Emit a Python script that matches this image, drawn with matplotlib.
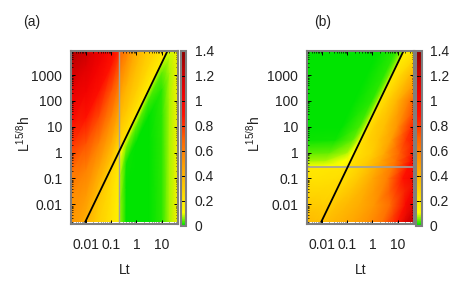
import numpy as np
import matplotlib
matplotlib.use('Agg')
import matplotlib.pyplot as plt
from matplotlib.colors import LinearSegmentedColormap
from matplotlib.patches import Rectangle
from matplotlib.ticker import FixedLocator, FixedFormatter, LogLocator, NullFormatter

plt.rcParams['font.family'] = ['Liberation Sans', 'DejaVu Sans']
plt.rcParams['mathtext.fontset'] = 'custom'
plt.rcParams['mathtext.rm'] = 'Liberation Sans'
plt.rcParams['mathtext.it'] = 'Liberation Sans'

# ---------------- data ----------------
x_ticks = [0.01, 0.1, 1, 10]
x_ticklabels = ['0.01', '0.1', '1', '10']
y_ticks = [0.01, 0.1, 1, 10, 100, 1000]
y_ticklabels = ['0.01', '0.1', '1', '10', '100', '1000']
cb_ticks = [0, 0.2, 0.4, 0.6, 0.8, 1.0, 1.2, 1.4]
cb_ticklabels = ['0', '0.2', '0.4', '0.6', '0.8', '1', '1.2', '1.4']
x_range = [10 ** -2.59, 10 ** 1.64]
y_range = [10 ** -2.76, 10 ** 3.93]
img_bottom_h = 10 ** -2.69

# crossover line (same in both panels)
line_lt = [0.0093, 16.8]
line_h = [0.00195, 8500.0]

gray_lt_a = 0.21   # vertical grey line, panel (a)
gray_h_b = 0.29    # horizontal grey line, panel (b)

# panel (a): columns = log10(Lt), rows = decades of L^{15/8}h above the line
A_u = [-2.6, -2.0, -1.5, -1.0, -0.67, -0.67, -0.4, 0.0, 0.5, 1.0, 1.3, 1.65]
A_s = [-8, -2, -1, -0.35, 0, 0, 0.5, 1, 2, 3, 4, 5, 6, 7, 8]
A_vals = [
    [0.45, 0.35, 0.28, 0.20, 0.15, 0.06, 0.00, 0.00, 0.00, 0.02, 0.07, 0.18],
    [0.45, 0.36, 0.29, 0.22, 0.16, 0.07, 0.00, 0.00, 0.00, 0.02, 0.07, 0.18],
    [0.46, 0.38, 0.30, 0.24, 0.18, 0.08, 0.01, 0.00, 0.00, 0.02, 0.07, 0.18],
    [0.47, 0.40, 0.32, 0.26, 0.20, 0.10, 0.05, 0.04, 0.03, 0.04, 0.08, 0.18],
    [0.48, 0.42, 0.34, 0.28, 0.22, 0.14, 0.12, 0.10, 0.08, 0.08, 0.10, 0.18],
    [0.48, 0.42, 0.34, 0.28, 0.22, 0.24, 0.22, 0.20, 0.18, 0.18, 0.18, 0.18],
    [0.49, 0.46, 0.40, 0.36, 0.30, 0.28, 0.27, 0.25, 0.22, 0.22, 0.20, 0.20],
    [0.50, 0.50, 0.46, 0.43, 0.38, 0.33, 0.32, 0.30, 0.27, 0.25, 0.22, 0.20],
    [0.53, 0.59, 0.60, 0.58, 0.53, 0.45, 0.42, 0.38, 0.32, 0.30, 0.25, 0.22],
    [0.61, 0.73, 0.76, 0.73, 0.69, 0.57, 0.55, 0.45, 0.40, 0.35, 0.30, 0.25],
    [0.77, 0.88, 0.90, 0.88, 0.84, 0.70, 0.66, 0.55, 0.45, 0.40, 0.35, 0.30],
    [0.92, 1.02, 1.02, 1.00, 0.98, 0.80, 0.75, 0.60, 0.50, 0.45, 0.40, 0.35],
    [1.06, 1.12, 1.12, 1.10, 1.10, 0.88, 0.80, 0.65, 0.55, 0.50, 0.45, 0.40],
    [1.18, 1.25, 1.20, 1.20, 1.20, 0.95, 0.85, 0.70, 0.60, 0.55, 0.50, 0.45],
    [1.32, 1.30, 1.25, 1.25, 1.25, 1.00, 0.90, 0.75, 0.65, 0.60, 0.55, 0.50],
]

# panel (b): rows = log10(L^{15/8}h), columns = decades of Lt right of the line
B_w = [-2.8, -2.0, -1.0, -0.53, -0.53, -0.3, 0.0, 0.5, 1.0, 2.0, 3.0, 4.0]
B_d = [-4, -1, -0.3, -0.1, 0, 0, 0.3, 0.7, 1.2, 1.8, 2.4, 3.0, 3.4, 3.8]
B_vals = [
    [0.42, 0.41, 0.38, 0.37, 0.36, 0.36, 0.38, 0.41, 0.45, 0.52, 0.62, 0.85, 1.15, 1.28],
    [0.32, 0.31, 0.30, 0.30, 0.30, 0.30, 0.34, 0.38, 0.43, 0.52, 0.66, 0.95, 1.15, 1.25],
    [0.22, 0.22, 0.23, 0.24, 0.24, 0.24, 0.27, 0.33, 0.45, 0.60, 0.88, 1.05, 1.10, 1.15],
    [0.20, 0.20, 0.21, 0.22, 0.22, 0.22, 0.26, 0.32, 0.45, 0.62, 0.90, 1.00, 1.05, 1.10],
    [0.09, 0.10, 0.12, 0.15, 0.18, 0.22, 0.26, 0.32, 0.45, 0.62, 0.90, 1.00, 1.05, 1.10],
    [0.06, 0.07, 0.10, 0.13, 0.17, 0.22, 0.26, 0.31, 0.45, 0.65, 0.92, 1.00, 1.00, 1.00],
    [0.03, 0.04, 0.07, 0.10, 0.14, 0.22, 0.25, 0.30, 0.45, 0.70, 0.95, 1.00, 1.00, 1.00],
    [0.00, 0.01, 0.04, 0.08, 0.12, 0.22, 0.28, 0.34, 0.48, 0.80, 0.95, 1.00, 1.00, 1.00],
    [0.00, 0.00, 0.03, 0.07, 0.12, 0.22, 0.30, 0.36, 0.52, 0.84, 0.95, 1.00, 1.00, 1.00],
    [0.00, 0.00, 0.02, 0.06, 0.10, 0.22, 0.28, 0.40, 0.62, 0.80, 0.90, 0.90, 0.90, 0.90],
    [0.00, 0.00, 0.02, 0.05, 0.09, 0.20, 0.26, 0.37, 0.50, 0.60, 0.70, 0.70, 0.70, 0.70],
    [0.00, 0.00, 0.02, 0.05, 0.08, 0.18, 0.20, 0.25, 0.35, 0.45, 0.50, 0.50, 0.50, 0.50],
]

# ---------------- colours ----------------
cmap = LinearSegmentedColormap.from_list('gyr', [
    (0.0 / 1.4, '#00e400'),
    (0.10 / 1.4, '#ffff00'),
    (0.20 / 1.4, '#ffe800'),
    (0.35 / 1.4, '#ffc000'),
    (0.50 / 1.4, '#ff9a00'),
    (0.70 / 1.4, '#ff6000'),
    (0.88 / 1.4, '#ff1000'),
    (1.05 / 1.4, '#f00000'),
    (1.20 / 1.4, '#cc0000'),
    (1.40 / 1.4, '#8c0000'),
])

FS = 10
TXT = '#222222'

# line in log space
lx0, lx1 = np.log10(line_lt)
ly0, ly1 = np.log10(line_h)
k = (ly1 - ly0) / (lx1 - lx0)

fig = plt.figure(figsize=(4.69, 2.92), dpi=100)
W, H = 469.0, 292.0


def fr(l, t, r, b):
    return [l / W, 1 - b / H, (r - l) / W, (b - t) / H]


ax_a = fig.add_axes(fr(70.7, 51, 178, 224))
cax_a = fig.add_axes(fr(180.7, 50.5, 186.3, 225.5))
ax_b = fig.add_axes(fr(306.7, 51, 414, 224))
cax_b = fig.add_axes(fr(416.0, 50.5, 421.6, 225.5))

# grids
Au = np.array(A_u)[None, :] * np.ones((len(A_s), 1))
As = np.array(A_s)[:, None] * np.ones((1, len(A_u)))
AX = 10 ** Au
AY = 10 ** (As + ly0 + k * (Au - lx0))

Bw = np.array(B_w)[:, None] * np.ones((1, len(B_d)))
Bd = np.array(B_d)[None, :] * np.ones((len(B_w), 1))
BX = 10 ** (Bd + lx0 + (Bw - ly0) / k)
BY = 10 ** Bw

panels = [(ax_a, cax_a, AX, AY, np.array(A_vals), '(a)', 23),
          (ax_b, cax_b, BX, BY, np.array(B_vals), '(b)', 314)]

for ax, cax, X, Y, V, tag, tagx in panels:
    ax.set_xscale('log')
    ax.set_yscale('log')
    mesh = ax.pcolormesh(X, Y, V, shading='gouraud', cmap=cmap, vmin=0, vmax=1.4,
                         rasterized=True)
    clip = Rectangle((x_range[0], img_bottom_h), x_range[1] - x_range[0],
                     y_range[1] - img_bottom_h, transform=ax.transData,
                     facecolor='none', edgecolor='none')
    ax.add_patch(clip)
    mesh.set_clip_path(clip)
    ax.plot(line_lt, line_h, color='black', lw=1.3, solid_capstyle='butt', zorder=4)
    ax.set_xlim(x_range)
    ax.set_ylim(y_range)

    ax.xaxis.set_major_locator(FixedLocator(x_ticks))
    ax.xaxis.set_major_formatter(FixedFormatter(x_ticklabels))
    ax.yaxis.set_major_locator(FixedLocator(y_ticks))
    ax.yaxis.set_major_formatter(FixedFormatter(y_ticklabels))
    ax.xaxis.set_minor_locator(LogLocator(base=10, subs=np.arange(2, 10), numticks=20))
    ax.yaxis.set_minor_locator(LogLocator(base=10, subs=np.arange(2, 10), numticks=20))
    ax.xaxis.set_minor_formatter(NullFormatter())
    ax.yaxis.set_minor_formatter(NullFormatter())
    ax.tick_params(which='both', direction='in', top=True, right=True, color='black',
                   labelsize=FS, labelcolor=TXT)
    ax.tick_params(which='major', length=3.0, width=0.7)
    ax.tick_params(which='minor', length=1.6, width=0.5)
    ax.tick_params(axis='x', which='both', pad=10)
    ax.tick_params(axis='y', which='both', pad=6)
    for sp in ax.spines.values():
        sp.set_edgecolor('#7f7f7f')
        sp.set_linewidth(1.5)
        sp.set_zorder(5)

    cb = fig.colorbar(mesh, cax=cax)
    cb.set_ticks(cb_ticks)
    cb.set_ticklabels(cb_ticklabels)
    cb.outline.set_edgecolor('#7f7f7f')
    cb.outline.set_linewidth(1.5)
    cax.tick_params(which='both', direction='in', left=True, right=True, length=2.2,
                    width=0.7, color='black', labelsize=FS, pad=6, labelcolor=TXT)
    cax.minorticks_off()

    bb = ax.get_position()
    xc = (bb.x0 + bb.x1) / 2
    fig.text(xc, 1 - 270 / H, 'Lt', ha='center', va='center', fontsize=FS, color=TXT)
    fig.text(tagx / W, 1 - 22 / H, tag, ha='left', va='center', fontsize=FS, color=TXT)

ax_a.axvline(gray_lt_a, color='#a0a0a0', lw=1.0, zorder=3)
ax_b.axhline(gray_h_b, color='#a0a0a0', lw=1.2, zorder=3)

ylab = r'$\mathregular{L^{15/8}h}$'
fig.text(24 / W, 1 - 134 / H, ylab, rotation=90, ha='center', va='center', fontsize=FS,
         color=TXT)
fig.text(254 / W, 1 - 134 / H, ylab, rotation=90, ha='center', va='center', fontsize=FS,
         color=TXT)

fig.savefig('out.png', dpi=100, facecolor='white')
